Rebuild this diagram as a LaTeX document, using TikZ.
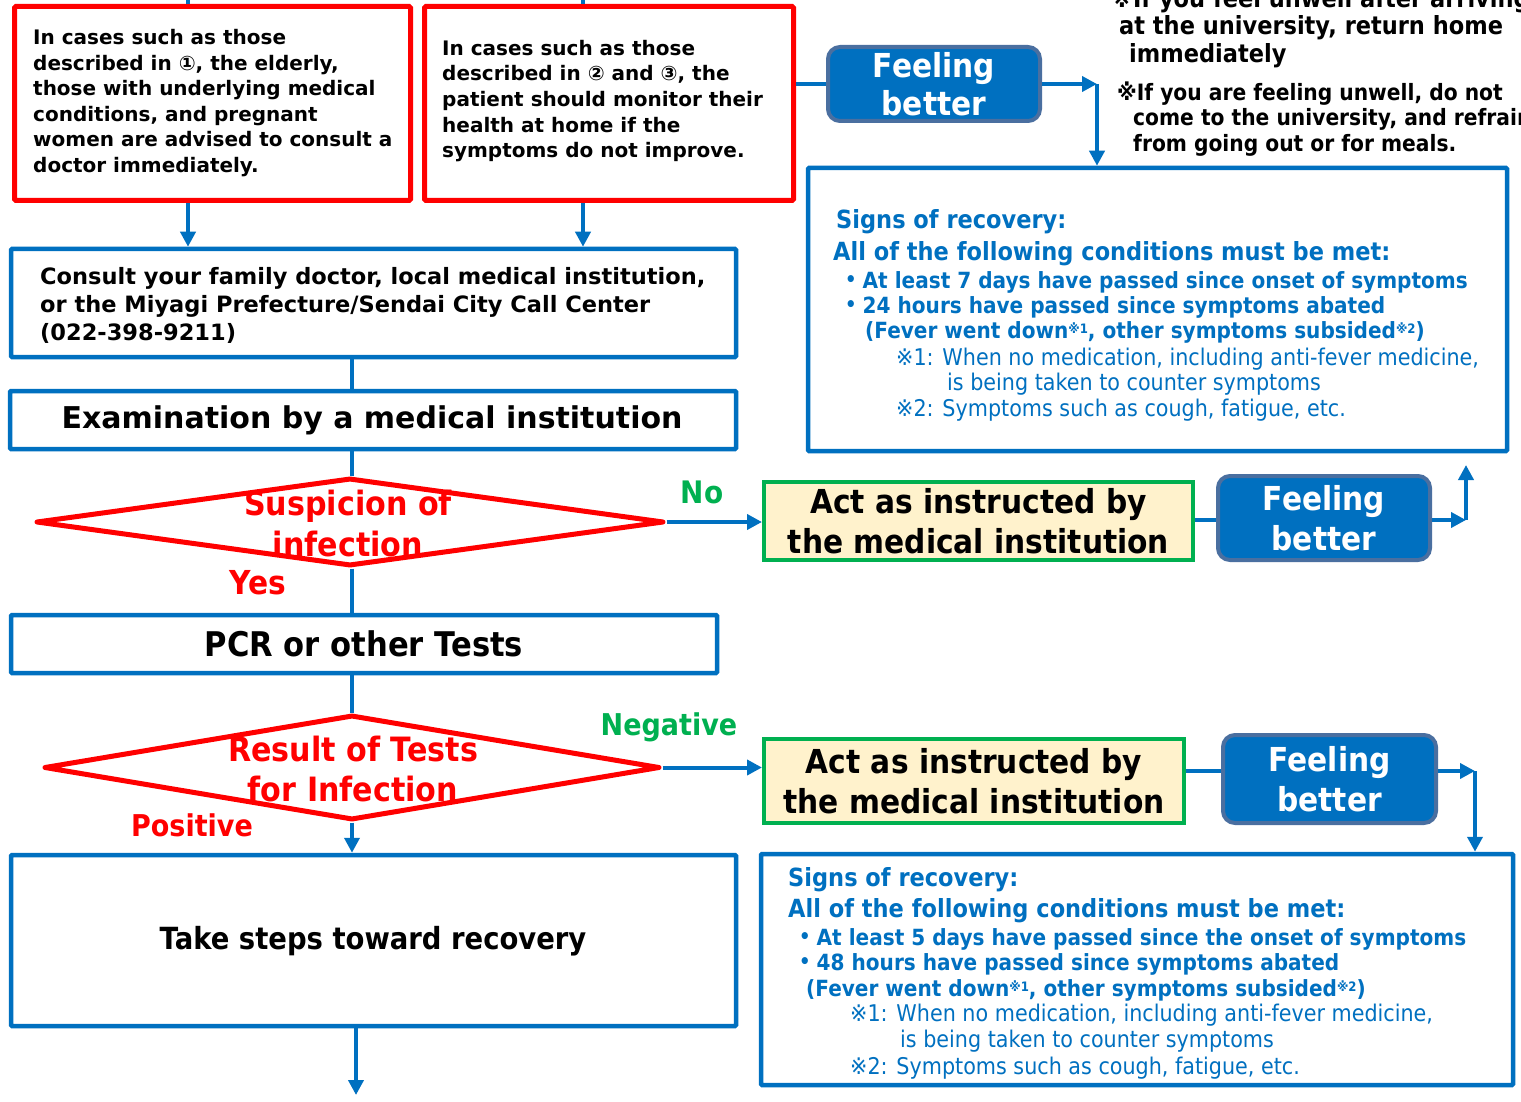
\documentclass[tikz,border=0pt]{standalone}
\usepackage{fontspec}
\setmainfont{DejaVu Sans}
\newfontfamily\condf{DejaVu Sans}[FakeStretch=0.9]
\usetikzlibrary{arrows.meta,shapes.geometric}
\definecolor{bl}{HTML}{0070C0}
\definecolor{rd}{HTML}{FF0000}
\definecolor{gn}{HTML}{00B050}
\definecolor{yl}{HTML}{FFF2CC}
\definecolor{fb}{HTML}{4A6FA0}
\newcommand{\fs}[1]{\fontsize{#1}{1.25\dimexpr #1pt\relax}\selectfont}
\begin{document}
\begin{tikzpicture}[x=1pt,y=-1pt,
  redbox/.style={draw=rd,line width=5pt,rounded corners=1.5pt,inner sep=0pt},
  bluebox/.style={draw=bl,line width=4.5pt,rounded corners=1pt,inner sep=0pt},
  greenbox/.style={draw=gn,fill=yl,line width=4pt,inner sep=0pt},
  feelbox/.style={draw=fb,fill=bl,line width=4pt,rounded corners=12pt,inner sep=0pt},
  dia/.style={diamond,draw=rd,line width=5pt,inner sep=0pt,line join=round},
  conn/.style={draw=bl,line width=4pt},
  arr/.style={conn,-{Triangle[length=15pt,width=15pt]}},
  txt/.style={inner sep=0pt,anchor=west,align=left},
  blk/.style={txt,font=\bfseries\fontsize{20}{25.6}\selectfont},
  cnd/.style={inner sep=0pt,font=\condf\bfseries\fontsize{33}{40}\selectfont,align=center},
  rec/.style={txt,text=bl,font=\condf\bfseries\fs{25}},
  recb/.style={txt,text=bl,font=\condf\bfseries\fs{22.3}},
  recn/.style={txt,text=bl,font=\condf\fs{23}},
  note/.style={txt,font=\condf\bfseries\fs{25}},
]
\useasboundingbox (0,0) rectangle (1521,1102);
\clip (0,0) rectangle (1521,1102);
\fill[white] (0,0) rectangle (1521,1102);

% boxes
\node[redbox,minimum width=396pt,minimum height=194pt] (box1) at (212.5,103.5) {};
\node[redbox,minimum width=369pt,minimum height=194pt] (box2) at (609,103.5) {};
\node[bluebox,minimum width=725pt,minimum height=108pt] (consult) at (373.5,303) {};
\node[bluebox,minimum width=726pt,minimum height=58pt] (exam) at (373,420) {};
\node[dia,minimum width=628pt,minimum height=88pt] (d1) at (350,522) {};
\node[bluebox,minimum width=706pt,minimum height=58pt] (pcr) at (364,644) {};
\node[dia,minimum width=616pt,minimum height=105pt] (d2) at (352,767.5) {};
\node[bluebox,minimum width=725pt,minimum height=171pt] (take) at (373.5,940.5) {};
\node[bluebox,minimum width=699pt,minimum height=283pt] (rec1) at (1157.5,309.5) {};
\node[bluebox,minimum width=752pt,minimum height=231pt] (rec2) at (1137,969.5) {};
\node[greenbox,minimum width=429pt,minimum height=78pt] (green1) at (978.5,521) {};
\node[greenbox,minimum width=420pt,minimum height=84pt] (green2) at (974,781) {};
\node[feelbox,minimum width=212pt,minimum height=74pt] (feel1) at (934,84) {};
\node[feelbox,minimum width=212pt,minimum height=84pt] (feel2) at (1324,518) {};
\node[feelbox,minimum width=213pt,minimum height=88pt] (feel3) at (1329.5,779) {};

% helper coordinates
\coordinate (t1) at (188,0);
\coordinate (t2) at (583,0);
\coordinate (sp) at (352,0);
\coordinate (endc) at (356,1095);
\coordinate (k0) at (1097,84);
\coordinate (k1) at (1466,520);
\coordinate (k1top) at (1466,465);
\coordinate (k2) at (1475,771);

% connectors
\draw[conn] (t1) -- (t1 |- box1.north);
\draw[conn] (t2) -- (t2 |- box2.north);
\draw[arr] (t1 |- box1.south) -- (t1 |- consult.north);
\draw[arr] (t2 |- box2.south) -- (t2 |- consult.north);
\draw[conn] (sp |- consult.south) -- (sp |- exam.north);
\draw[conn] (sp |- exam.south) -- (sp |- d1.north);
\draw[conn] (sp |- d1.south) -- (sp |- pcr.north);
\draw[conn] (sp |- pcr.south) -- (sp |- d2.north);
\draw[arr] (sp |- d2.south) -- (sp |- take.north);
\draw[arr] (endc |- take.south) -- (endc);
\draw[arr] (d1.east) -- (green1.west |- d1.east);
\draw[conn] (green1.east |- k1) -- (feel2.west |- k1);
\draw[arr] (feel2.east |- k1) -- (k1);
\draw[arr] (k1) -- (k1top);
\draw[conn] (box2.east |- feel1.west) -- (feel1.west);
\draw[arr] (feel1.east) -- (k0);
\draw[arr] (k0) -- (k0 |- rec1.north);
\draw[arr] (d2.east) -- (green2.west |- d2.east);
\draw[conn] (green2.east |- k2) -- (feel3.west |- k2);
\draw[arr] (feel3.east |- k2) -- (k2);
\draw[arr] (k2) -- (k2 |- rec2.north);

% texts in black boxes
\node[blk] (tx1) at (33,103) {In cases such as those\\described in ①, the elderly,\\those with underlying medical\\conditions, and pregnant\\women are advised to consult a\\doctor immediately.};
\node[blk] (tx2) at (442,101) {In cases such as those\\described in ② and ③, the\\patient should monitor their\\health at home if the\\symptoms do not improve.};
\node[txt,font=\bfseries\fontsize{22.5}{28}\selectfont] (tx3) at (40,305) {Consult your family doctor, local medical institution,\\or the Miyagi Prefecture/Sendai City Call Center\\(022-398-9211)};
\node[inner sep=0pt,font=\bfseries\fs{30}] (tx4) at (372,420) {Examination by a medical institution};
\node[cnd,font=\condf\bfseries\fontsize{33.5}{41}\selectfont,text=rd] (tx5) at (348,524) {Suspicion of\\infection};
\node[cnd,font=\condf\bfseries\fontsize{33.5}{40}\selectfont,text=rd] (tx6) at (353,769) {Result of Tests\\for Infection};
\node[cnd,font=\condf\bfseries\fs{34}] (tx7) at (364,644) {PCR or other Tests};
\node[cnd,font=\condf\bfseries\fs{30.5}] (tx8) at (373,941) {Take steps toward recovery};
\node[cnd] (tx9) at (green1.center) {Act as instructed by\\the medical institution};
\node[cnd] (tx10) at (green2.center) {Act as instructed by\\the medical institution};
\node[cnd,text=white,font=\condf\bfseries\fontsize{33}{38}\selectfont] (tx11) at (feel1.center) {Feeling\\better};
\node[cnd,text=white,font=\condf\bfseries\fontsize{33}{40}\selectfont] (tx12) at (feel2.center) {Feeling\\better};
\node[cnd,text=white,font=\condf\bfseries\fontsize{33}{40}\selectfont] (tx13) at (feel3.center) {Feeling\\better};

% branch labels
\node[cnd,text=gn,font=\condf\bfseries\fs{31}] (lno) at (702,492) {No};
\node[cnd,text=rd,font=\condf\bfseries\fs{33}] (lyes) at (258,583) {Yes};
\node[cnd,text=gn,font=\condf\bfseries\fs{30}] (lneg) at (669,727) {Negative};
\node[cnd,text=rd,font=\condf\bfseries\fs{30}] (lpos) at (192,825) {Positive};

% top-right notes
\node[note] (n1) at (1111,0) {※If you feel unwell after arriving};
\node[note] (n2) at (1119,28) {at the university, return home};
\node[note] (n3) at (1129,56) {immediately};
\node[note,font=\condf\bfseries\fs{22.5}] (n4) at (1117,94) {※If you are feeling unwell, do not};
\node[note,font=\condf\bfseries\fs{22.5}] (n5) at (1133,119) {come to the university, and refrain};
\node[note,font=\condf\bfseries\fs{22.5}] (n6) at (1133,145) {from going out or for meals.};

% recovery box 1
\node[rec] (r1a) at (836,222) {Signs of recovery:};
\node[rec] (r1b) at (833,254) {All of the following conditions must be met:};
\node[recb] (r1c) at (845,282) {{\fs{20}\raisebox{2pt}{•}}\hspace{6pt}At least 7 days have passed since onset of symptoms};
\node[recb] (r1d) at (845,307) {{\fs{20}\raisebox{2pt}{•}}\hspace{6pt}24 hours have passed since symptoms abated};
\node[recb] (r1e) at (865,332) {(Fever went down{\fs{13}\raisebox{5pt}{※1}}, other symptoms subsided{\fs{13}\raisebox{5pt}{※2}})};
\node[recn] (r1f) at (896,359) {※1: When no medication, including anti-fever medicine,};
\node[recn] (r1g) at (947,384) {is being taken to counter symptoms};
\node[recn] (r1h) at (896,410) {※2: Symptoms such as cough, fatigue, etc.};

% recovery box 2
\node[rec] (r2a) at (788,880) {Signs of recovery:};
\node[rec] (r2b) at (788,911) {All of the following conditions must be met:};
\node[recb] (r2c) at (799,939) {{\fs{20}\raisebox{2pt}{•}}\hspace{6pt}At least 5 days have passed since the onset of symptoms};
\node[recb] (r2d) at (799,964) {{\fs{20}\raisebox{2pt}{•}}\hspace{6pt}48 hours have passed since symptoms abated};
\node[recb] (r2e) at (806,990) {(Fever went down{\fs{13}\raisebox{5pt}{※1}}, other symptoms subsided{\fs{13}\raisebox{5pt}{※2}})};
\node[recn] (r2f) at (850,1015) {※1: When no medication, including anti-fever medicine,};
\node[recn] (r2g) at (900,1041) {is being taken to counter symptoms};
\node[recn] (r2h) at (850,1068) {※2: Symptoms such as cough, fatigue, etc.};
\end{tikzpicture}
\end{document}
